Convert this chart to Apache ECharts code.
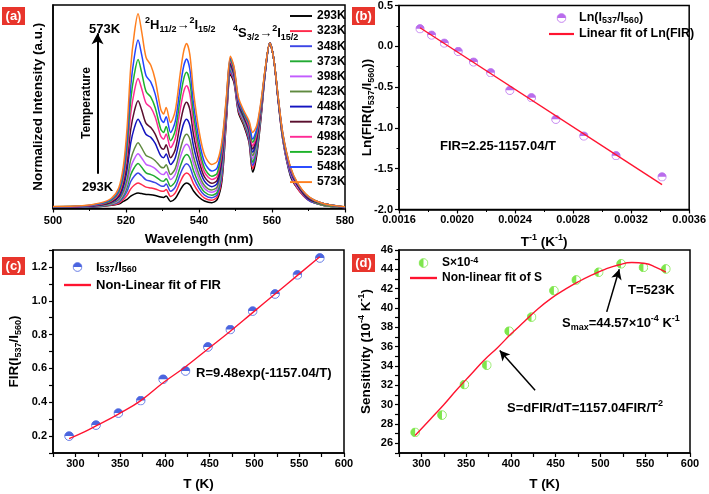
<!DOCTYPE html>
<html><head><meta charset="utf-8">
<script src="https://cdn.jsdelivr.net/npm/echarts@6/dist/echarts.min.js"></script>
<style>html,body{margin:0;padding:0;background:#fff}#c{width:709px;height:494px}</style>
</head><body><div id="c"></div>
<script>
// ---------- Panel (a): emission spectra ----------
const wavelength = [500,508,513,516,518,519.3,520.3,521.3,522.3,523.3,524.3,525.5,526.8,528,529.5,530.3,531,532.2,533.5,534.8,535.8,536.6,537.5,538.5,540,541.5,543.5,545,546.3,547.5,548.6,549.6,550.8,552.3,553.7,554.7,555.8,557,558.2,559.4,560.5,561.7,563,565,567,570,574,580];
const tempLabels = ['293K','323K','348K','373K','398K','423K','448K','473K','498K','523K','548K','573K'];
const s293 = [.006,.008,.012,.019,.027,.043,.055,.075,.087,.093,.090,.085,.083,.078,.069,.067,.075,.043,.060,.110,.143,.154,.143,.106,.068,.045,.035,.055,.17,.53,.81,.76,.58,.50,.40,.22,.32,.55,.83,1.0,.90,.65,.41,.20,.12,.05,.02,.005];
const s323 = [.007,.009,.013,.021,.032,.055,.080,.119,.142,.154,.144,.129,.124,.118,.106,.104,.115,.073,.094,.158,.201,.215,.200,.149,.096,.063,.050,.070,.19,.54,.82,.77,.59,.51,.41,.24,.34,.56,.83,1.0,.90,.65,.41,.21,.12,.05,.02,.006];
const s348 = [.007,.009,.014,.024,.038,.067,.104,.163,.197,.215,.198,.173,.165,.156,.137,.134,.148,.104,.129,.204,.253,.270,.251,.188,.122,.081,.065,.085,.21,.56,.83,.78,.60,.52,.42,.26,.35,.57,.83,1.0,.90,.65,.42,.21,.13,.05,.02,.006];
const s373 = [.008,.010,.015,.026,.043,.078,.127,.204,.248,.272,.249,.215,.205,.193,.169,.165,.180,.134,.163,.250,.308,.327,.304,.228,.149,.100,.080,.100,.24,.57,.84,.79,.61,.52,.44,.28,.37,.58,.84,1.0,.90,.66,.42,.22,.13,.06,.02,.007];
const s398 = [.008,.011,.017,.028,.048,.090,.150,.247,.301,.331,.305,.267,.256,.241,.210,.205,.222,.175,.207,.303,.367,.388,.361,.272,.179,.121,.098,.118,.26,.58,.85,.79,.61,.53,.45,.30,.39,.59,.84,1.0,.90,.66,.42,.22,.13,.06,.02,.007];
const s423 = [.009,.012,.018,.031,.054,.104,.177,.295,.361,.398,.366,.321,.307,.289,.252,.246,.265,.205,.242,.351,.425,.449,.418,.314,.206,.139,.112,.132,.28,.60,.86,.80,.62,.54,.46,.32,.40,.60,.84,1.0,.90,.66,.43,.23,.14,.06,.02,.008];
const s448 = [.009,.012,.021,.037,.067,.132,.234,.397,.489,.540,.502,.447,.430,.393,.319,.307,.330,.266,.307,.430,.513,.540,.502,.377,.246,.165,.132,.152,.30,.61,.87,.81,.63,.55,.47,.34,.42,.61,.84,1.0,.90,.66,.43,.23,.14,.06,.03,.008];
const s473 = [.010,.013,.023,.041,.077,.154,.279,.478,.590,.652,.595,.514,.490,.450,.371,.358,.385,.307,.357,.508,.609,.642,.597,.446,.289,.191,.152,.172,.32,.62,.88,.82,.64,.56,.48,.36,.43,.61,.85,1.0,.90,.66,.44,.24,.14,.06,.03,.008];
const s498 = [.010,.014,.026,.046,.089,.181,.332,.574,.710,.785,.724,.636,.610,.553,.438,.419,.450,.368,.424,.592,.705,.742,.690,.515,.334,.220,.175,.195,.34,.63,.89,.83,.65,.57,.49,.38,.45,.62,.85,1.0,.90,.67,.44,.24,.15,.07,.03,.008];
const s523 = [.011,.015,.028,.051,.099,.204,.378,.656,.813,.900,.821,.707,.673,.609,.481,.460,.495,.410,.472,.658,.782,.823,.765,.572,.371,.245,.195,.215,.37,.65,.90,.84,.66,.57,.51,.40,.47,.63,.85,1.0,.90,.67,.44,.25,.15,.07,.03,.009];
const s548 = [.011,.015,.030,.056,.110,.228,.425,.741,.919,1.018,.929,.802,.764,.691,.544,.520,.555,.460,.527,.726,.860,.904,.841,.633,.416,.280,.226,.246,.39,.66,.91,.85,.66,.58,.52,.42,.48,.64,.85,1.0,.90,.67,.45,.25,.15,.07,.03,.009];
const s573 = [.012,.016,.034,.062,.124,.259,.489,.856,1.062,1.177,1.068,.913,.866,.778,.601,.571,.610,.520,.592,.807,.950,.998,.928,.705,.471,.325,.266,.286,.41,.673,.92,.856,.673,.59,.53,.46,.50,.652,.856,1.0,.90,.673,.45,.256,.155,.073,.03,.01];
const spectra = [s293,s323,s348,s373,s398,s423,s448,s473,s498,s523,s548,s573];
const specColors = ['#000000','#ff2a4a','#3c46e6','#22aa33','#c25cff','#5f8a3f','#1414c0','#5a0f2e','#ff2a95','#1db32a','#2244ff','#ff7f1e'];

// ---------- Panel (b): Ln(FIR) vs 1/T ----------
const invT = [0.001745,0.001825,0.001912,0.002008,0.002114,0.002232,0.002364,0.002513,0.002681,0.002874,0.003096,0.003413];
const lnFIR = [0.215,0.137,0.039,-0.063,-0.193,-0.324,-0.54,-0.63,-0.895,-1.10,-1.34,-1.60];
const fitInvT = [0.001745,0.003413];
const fitLn = [0.227,-1.695];

// ---------- Panel (c): FIR vs T ----------
const tempK = [293,323,348,373,398,423,448,473,498,523,548,573];
const fir = [0.20,0.265,0.336,0.41,0.536,0.585,0.727,0.83,0.939,1.04,1.153,1.253];
const fitT = [293,310,323,348,373,398,423,448,473,498,523,548,573];
const fitFIR = [0.185,0.225,0.26,0.33,0.41,0.515,0.61,0.715,0.82,0.93,1.04,1.15,1.26];

// ---------- Panel (d): sensitivity vs T ----------
const sens = [27.13,28.92,32.08,34.08,37.6,39.06,41.8,42.9,43.7,44.57,44.2,44.04];
const fitSensT = [293,310,325,340,355,370,385,400,415,430,445,460,475,490,505,520,535,550,562,573];
const fitSens = [26.8,28.5,30.0,31.6,33.1,34.6,35.9,37.3,38.6,39.9,41.0,41.9,42.7,43.4,44.0,44.45,44.7,44.6,44.2,43.7];

const FONT = '"Liberation Sans", Arial, "DejaVu Sans", sans-serif';
const pair = (xs, ys) => xs.map((x, i) => [x, ys[i]]);

function halfSym(color, dir) {
  const p = dir === 'top' ? 'M1.5 12 A10.5 10.5 0 0 1 22.5 12 Z' : 'M12 1.5 A10.5 10.5 0 0 0 12 22.5 Z';
  const svg = '<svg xmlns="http://www.w3.org/2000/svg" width="24" height="24" viewBox="0 0 24 24">' +
    '<circle cx="12" cy="12" r="10.5" fill="#ffffff" stroke="' + color + '" stroke-width="2"/>' +
    '<path d="' + p + '" fill="' + color + '"/></svg>';
  return 'image://data:image/svg+xml;charset=utf-8,' + encodeURIComponent(svg);
}
const symB = halfSym('#a848e8', 'top');
const symC = halfSym('#1f3fd8', 'top');
const symD = halfSym('#5fe020', 'left');
const lineIcon = 'path://M0 0H30V2.6H0Z';

const rich = {
  sub: {fontSize: 9, fontWeight: 'bold', fontFamily: FONT, verticalAlign: 'bottom', lineHeight: 10, color: '#000'},
  sup: {fontSize: 9, fontWeight: 'bold', fontFamily: FONT, verticalAlign: 'top', lineHeight: 10, color: '#000'}
};

function mkAxis(o) {
  const a = {
    type: 'value', gridIndex: o.g, min: o.min, max: o.max, interval: o.interval,
    name: o.name || '', nameLocation: 'middle', nameGap: o.nameGap || 20,
    nameTextStyle: {color: '#000', fontSize: 13.5, fontWeight: 'bold', fontFamily: FONT, lineHeight: 18, rich: rich},
    axisLine: {show: true, onZero: false, lineStyle: {color: '#000', width: 1.5}},
    axisTick: {show: o.ticks !== false, length: 4, lineStyle: {color: '#000', width: 1.2}},
    minorTick: {show: !!o.minor, splitNumber: o.minor || 2, length: 2.5, lineStyle: {color: '#000', width: 1}},
    axisLabel: {show: o.labels !== false, formatter: o.fmt, margin: o.margin || 6, color: '#000', fontSize: 11, fontWeight: 'bold', fontFamily: FONT},
    splitLine: {show: false}, minorSplitLine: {show: false}
  };
  if (o.noMove) a.nameMoveOverlap = false;
  return a;
}

const series = [];
spectra.forEach((s, i) => {
  series.push({
    type: 'line', name: tempLabels[i], xAxisIndex: 0, yAxisIndex: 0,
    data: pair(wavelength, s), symbol: 'none', smooth: 0.3,
    lineStyle: {width: 1.5, color: specColors[i]}, itemStyle: {color: specColors[i]},
    markLine: i === spectra.length - 1 ? {
      silent: true, symbol: ['none', 'arrow'], symbolSize: [9, 11], animation: false,
      lineStyle: {color: '#000', width: 2, type: 'solid'}, label: {show: false},
      data: [[{coord: [512.2, 0.21]}, {coord: [512.2, 1.06]}]]
    } : undefined
  });
});
series.push({type: 'scatter', name: 'Ln(I537/I560)', xAxisIndex: 1, yAxisIndex: 1, data: pair(invT, lnFIR), symbol: symB, symbolSize: 9.5});
series.push({type: 'line', name: 'Linear fit of Ln(FIR)', xAxisIndex: 1, yAxisIndex: 1, data: pair(fitInvT, fitLn), symbol: 'none', lineStyle: {color: '#ff1430', width: 1.4}, itemStyle: {color: '#ff1430'}});
series.push({type: 'scatter', name: 'I537/I560', xAxisIndex: 2, yAxisIndex: 2, data: pair(tempK, fir), symbol: symC, symbolSize: 10});
series.push({type: 'line', name: 'Non-Linear fit of FIR', xAxisIndex: 2, yAxisIndex: 2, data: pair(fitT, fitFIR), symbol: 'none', smooth: true, lineStyle: {color: '#ff1430', width: 1.4}, itemStyle: {color: '#ff1430'}});
series.push({type: 'scatter', name: 'S×10-4', xAxisIndex: 3, yAxisIndex: 3, data: pair(tempK, sens), symbol: symD, symbolSize: 10});
series.push({type: 'line', name: 'Non-linear fit of S', xAxisIndex: 3, yAxisIndex: 3, data: pair(fitSensT, fitSens), symbol: 'none', smooth: true,
  lineStyle: {color: '#ff1430', width: 1.4}, itemStyle: {color: '#ff1430'},
  markLine: {silent: true, symbol: ['none', 'arrow'], symbolSize: [8, 10], animation: false,
    lineStyle: {color: '#000', width: 1.5, type: 'solid'}, label: {show: false},
    data: [[{coord: [507, 39.6]}, {coord: [521, 44.0]}], [{coord: [427, 31.5]}, {coord: [387.5, 35.6]}]]}
});

const legendText = {color: '#000', fontWeight: 'bold', fontFamily: FONT, fontSize: 12.5, lineHeight: 14, rich: rich};
const legendFmt = {
  'Ln(I537/I560)': 'Ln(I{sub|537}/I{sub|560})',
  'I537/I560': 'I{sub|537}/I{sub|560}',
  'S×10-4': 'S×10{sup|-4}'
};
const fmt = n => legendFmt[n] || n;

function panelLabel(x, y, t) {
  return [
    {type: 'rect', shape: {x: x, y: y, width: 23, height: 18}, style: {fill: '#e8352c'}},
    {type: 'text', x: x + 11.5, y: y + 9.5, style: {text: t, fill: '#fff', fontSize: 13, fontWeight: 'bold', fontFamily: FONT, align: 'center', verticalAlign: 'middle'}}
  ];
}
function txt(x, y, t, size) {
  return {type: 'text', x: x, y: y, style: {text: t, fill: '#000', fontSize: size || 13, fontWeight: 'bold', fontFamily: FONT, lineHeight: 18, verticalAlign: 'middle', rich: rich}};
}

const option = {
  animation: false,
  backgroundColor: '#fff',
  grid: [
    {left: 53, top: 5, width: 292, height: 203.5, show: true, borderColor: '#000', borderWidth: 1.5},
    {left: 399, top: 5, width: 292, height: 204.5, show: true, borderColor: '#000', borderWidth: 1.5},
    {left: 53, top: 250, width: 291, height: 206, show: true, borderColor: '#000', borderWidth: 1.5},
    {left: 399, top: 250, width: 291, height: 206, show: true, borderColor: '#000', borderWidth: 1.5}
  ],
  xAxis: [
    mkAxis({g: 0, min: 500, max: 580, interval: 20, minor: 2, name: 'Wavelength (nm)', nameGap: 22, margin: 7}),
    mkAxis({g: 1, min: 0.0016, max: 0.0036, interval: 0.0004, minor: 2, fmt: v => v.toFixed(4), name: 'T{sup|-1} (K{sup|-1})', nameGap: 24, margin: 5}),
    mkAxis({g: 2, min: 275, max: 600, interval: 25, fmt: v => (Math.round(v) % 50 === 0 ? String(Math.round(v)) : ''), name: 'T (K)', nameGap: 22, margin: 5}),
    mkAxis({g: 3, min: 275, max: 600, interval: 25, fmt: v => (Math.round(v) % 50 === 0 ? String(Math.round(v)) : ''), name: 'T (K)', nameGap: 22, margin: 5})
  ],
  yAxis: [
    mkAxis({g: 0, min: 0, max: 1.23, ticks: false, labels: false, name: 'Normalized Intensity (a.u.)', nameGap: 6}),
    mkAxis({g: 1, min: -2, max: 0.5, interval: 0.5, minor: 2, fmt: v => v.toFixed(1), name: 'Ln(FIR(I{sub|537}/I{sub|560}))', nameGap: 23, noMove: true}),
    mkAxis({g: 2, min: 0.1, max: 1.3, interval: 0.1, fmt: v => (Math.round(v * 10) % 2 === 0 ? v.toFixed(1) : ''), name: 'FIR(I{sub|537}/I{sub|560})', nameGap: 30}),
    mkAxis({g: 3, min: 25, max: 46, interval: 1, fmt: v => (Math.round(v) % 2 === 0 ? String(Math.round(v)) : ''), name: 'Sensitivity (10{sup|-4} K{sup|-1})', nameGap: 24})
  ],
  legend: [
    {data: tempLabels.map(n => ({name: n, icon: lineIcon})), orient: 'vertical', left: 290, top: 10, padding: 0, itemWidth: 22, itemHeight: 10, itemGap: 3.1, selectedMode: false,
      textStyle: {color: '#000', fontWeight: 'bold', fontFamily: FONT, fontSize: 12, lineHeight: 10}},
    {data: ['Ln(I537/I560)', {name: 'Linear fit of Ln(FIR)', icon: lineIcon}], orient: 'vertical', left: 549, top: 11, padding: 0, itemWidth: 25, itemHeight: 10, itemGap: 2, selectedMode: false, formatter: fmt, textStyle: legendText},
    {data: ['I537/I560', {name: 'Non-Linear fit of FIR', icon: lineIcon}], orient: 'vertical', left: 64, top: 260, padding: 0, itemWidth: 27, itemHeight: 10, itemGap: 4, selectedMode: false, formatter: fmt, textStyle: Object.assign({}, legendText, {fontSize: 13})},
    {data: ['S×10-4', {name: 'Non-linear fit of S', icon: lineIcon}], orient: 'vertical', left: 410, top: 256, padding: 0, itemWidth: 27, itemHeight: 10, itemGap: 1, selectedMode: false, formatter: fmt, textStyle: Object.assign({}, legendText, {fontSize: 12})}
  ],
  graphic: [].concat(
    panelLabel(2, 7, '(a)'), panelLabel(352, 7, '(b)'), panelLabel(2, 257, '(c)'), panelLabel(352, 254, '(d)'),
    [
      txt(89, 29, '573K'),
      txt(82, 187, '293K'),
      {type: 'text', x: 87, y: 103, rotation: Math.PI / 2, style: {text: 'Temperature', fill: '#000', fontSize: 12, fontWeight: 'bold', fontFamily: FONT, align: 'center', verticalAlign: 'middle'}},
      txt(145, 25, '{sup|2}H{sub|11/2}→{sup|2}I{sub|15/2}'),
      txt(233, 33, '{sup|4}S{sub|3/2}→{sup|2}I{sub|15/2}'),
      txt(440, 146, 'FIR=2.25-1157.04/T'),
      txt(196, 373, 'R=9.48exp(-1157.04/T)'),
      txt(628, 290, 'T=523K'),
      txt(562, 323, 'S{sub|max}=44.57×10{sup|-4} K{sup|-1}'),
      txt(507, 408, 'S=dFIR/dT=1157.04FIR/T{sup|2}')
    ]
  ),
  series: series
};
const chart = echarts.init(document.getElementById('c'), null, {renderer: 'canvas'});
chart.setOption(option);
</script>
</body></html>
